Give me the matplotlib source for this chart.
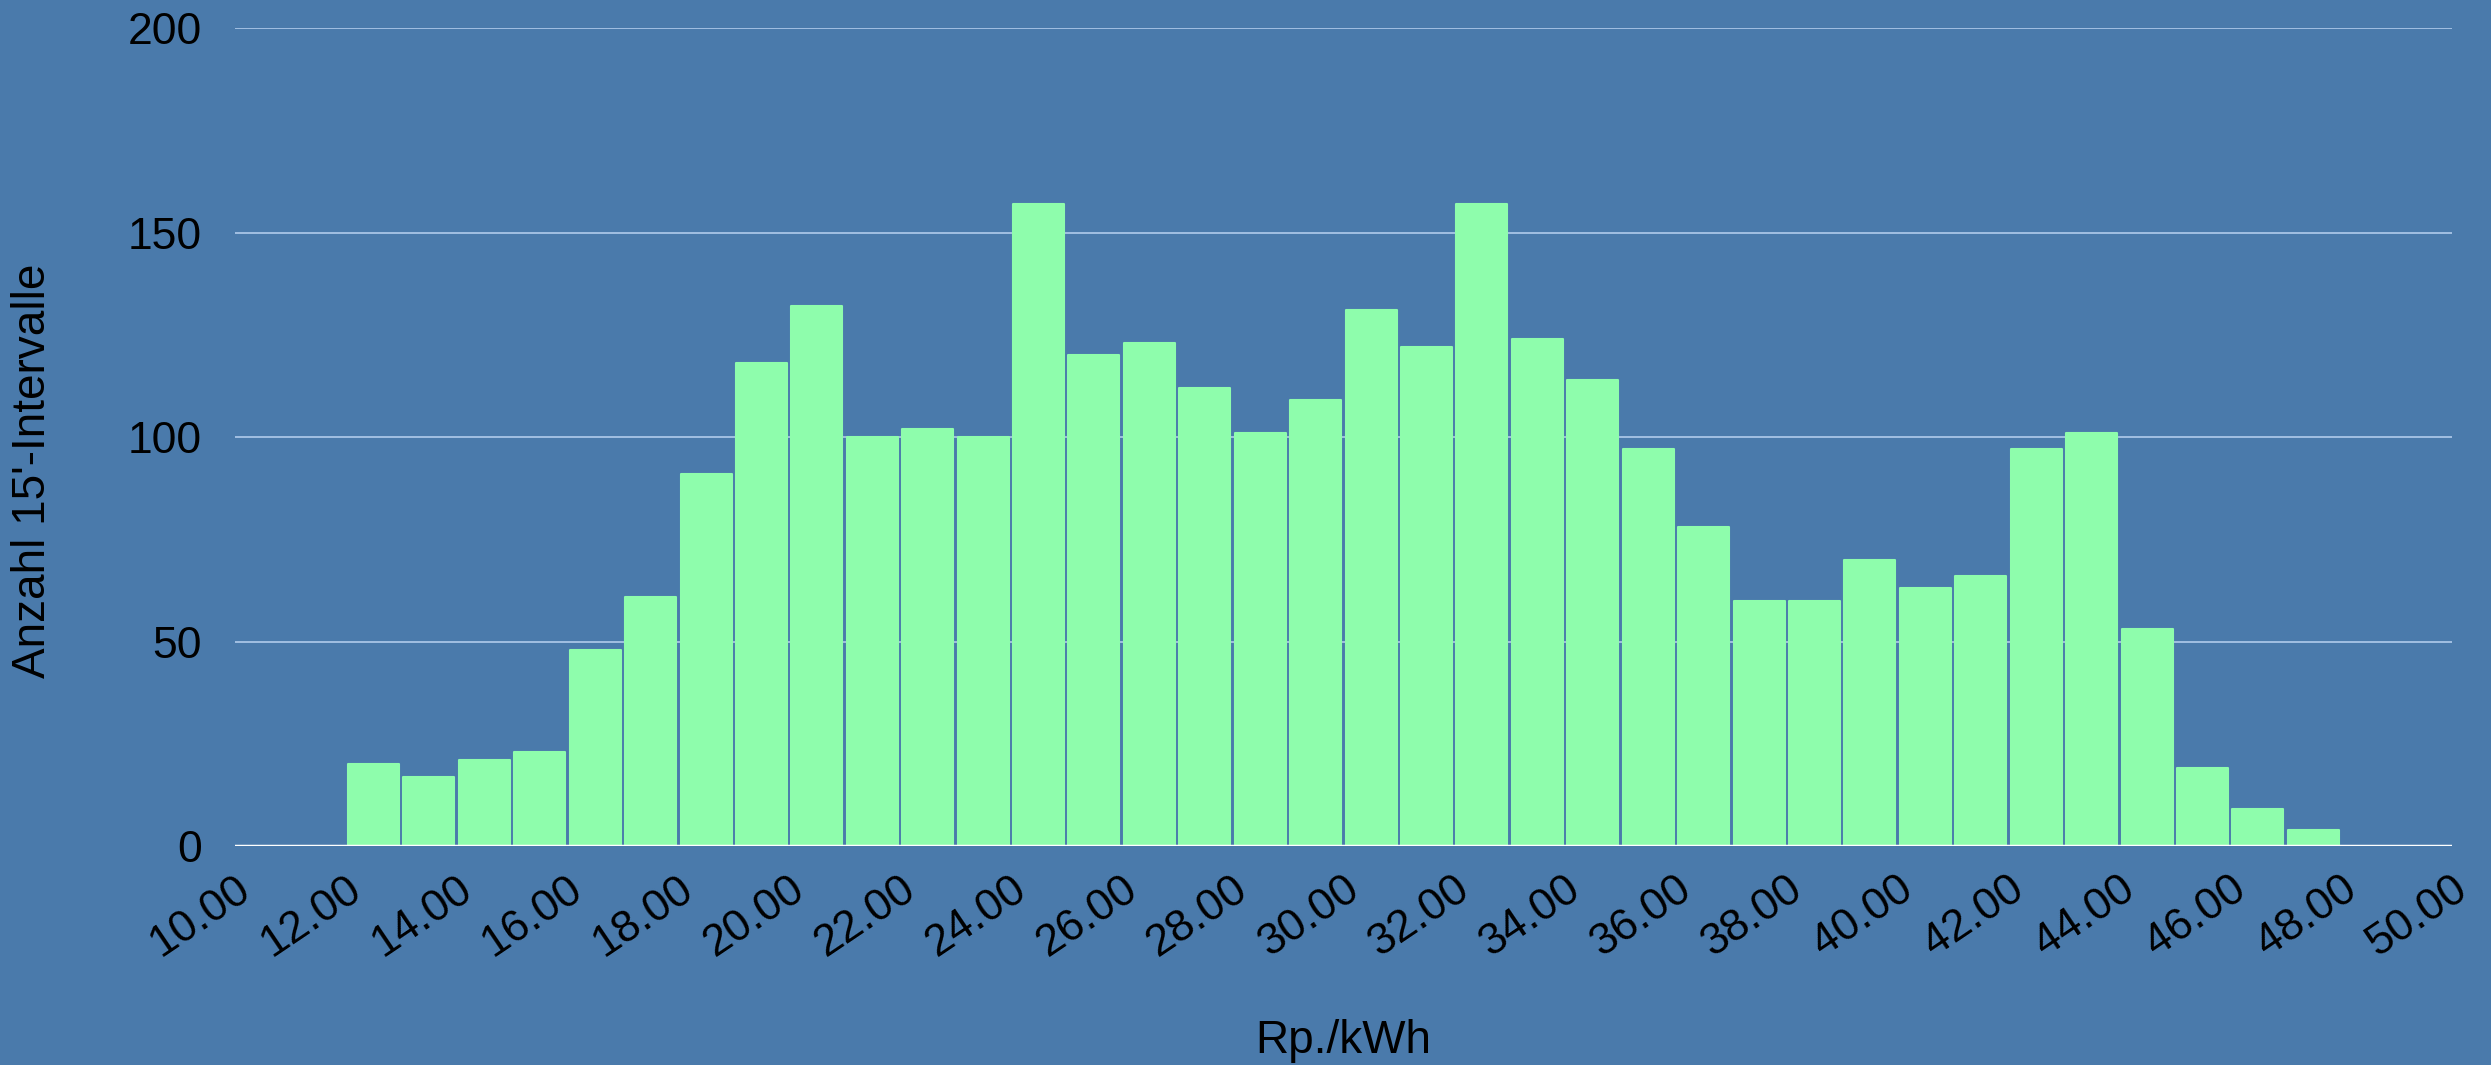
import numpy as np
import matplotlib
matplotlib.use("Agg")
import matplotlib.pyplot as plt

# bin start values (Rp./kWh) and counts of 15' intervals
bin_starts = list(range(12, 48))
counts = [20, 17, 21, 23, 48, 61, 91, 118, 132, 100,
          102, 100, 157, 120, 123, 112, 101, 109, 131, 122,
          157, 124, 114, 97, 78, 60, 60, 70, 63, 66,
          97, 101, 53, 19, 9, 4]
xticks = list(range(10, 51, 2))
xtick_labels = ["%.2f" % t for t in xticks]
yticks = [0, 50, 100, 150, 200]

bg = "#4a7aab"
bar_color = "#8efdac"

plt.rcParams['font.family'] = ['Liberation Sans', 'DejaVu Sans']

W, H = 2491, 1065
fig = plt.figure(figsize=(W / 100, H / 100), dpi=100, facecolor=bg)
ax = fig.add_axes([0.0943, 0.2056, 0.89, 0.768])
ax.set_facecolor(bg)

centers = np.array(bin_starts) + 0.5
ax.bar(centers, counts, width=0.92, color=bar_color, edgecolor=bar_color,
       linewidth=1.5, joinstyle='round', zorder=3)

ax.set_xlim(10, 50)
ax.set_ylim(0, 200)
ax.set_yticks(yticks)
ax.set_xticks(xticks)
ax.set_xticklabels(xtick_labels, rotation=34, ha='right', va='top',
                   rotation_mode='anchor')

for y in yticks[1:]:
    ax.axhline(y, color="#a9c5e6", linewidth=1.3, zorder=1)
ax.axhline(0, color="white", linewidth=2.5, zorder=4)

for s in ax.spines.values():
    s.set_visible(False)
ax.tick_params(axis='x', length=0, pad=16, labelsize=32, labelcolor='black')
ax.tick_params(axis='y', length=0, pad=24, labelsize=32, labelcolor='black')

fig.text(1343 / W, 1 - 1041 / H, "Rp./kWh", fontsize=33, color='black',
         ha='center', va='center')
fig.text(33 / W, 1 - 471 / H, "Anzahl 15'-Intervalle", fontsize=33,
         color='black', ha='center', va='center', rotation=90)

fig.savefig("out.png", dpi=100, facecolor=bg)
